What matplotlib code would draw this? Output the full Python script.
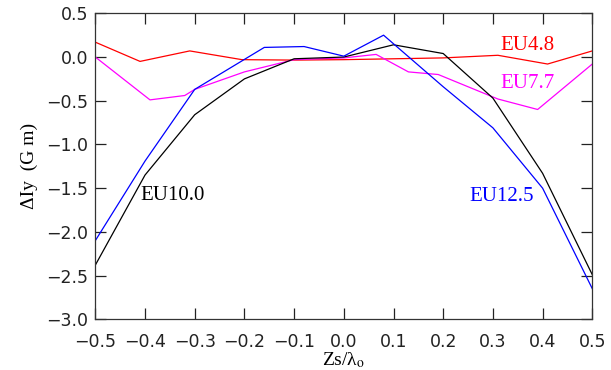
import matplotlib
matplotlib.use("Agg")
import matplotlib.pyplot as plt

# EU4.8 (red)
x_eu48 = [-0.5, -0.41, -0.31, -0.205, -0.1, 0.0, 0.1, 0.2, 0.31, 0.41, 0.5]
y_eu48 = [0.17, -0.05, 0.07, -0.03, -0.035, -0.03, -0.02, -0.01, 0.02, -0.08, 0.07]

# EU7.7 (magenta)
x_eu77 = [-0.5, -0.39, -0.32, -0.3, -0.2, -0.1, 0.0, 0.065, 0.13, 0.19, 0.31, 0.39, 0.5]
y_eu77 = [0.0, -0.49, -0.44, -0.37, -0.17, -0.03, -0.01, 0.03, -0.17, -0.2, -0.48, -0.6, -0.08]

# EU10.0 (black)
x_eu100 = [-0.5, -0.4, -0.3, -0.2, -0.1, 0.0, 0.1, 0.2, 0.3, 0.4, 0.5]
y_eu100 = [-2.38, -1.35, -0.66, -0.25, -0.02, 0.0, 0.14, 0.04, -0.47, -1.33, -2.49]

# EU12.5 (blue)
x_eu125 = [-0.5, -0.4, -0.3, -0.16, -0.08, 0.0, 0.08, 0.2, 0.3, 0.4, 0.5]
y_eu125 = [-2.10, -1.19, -0.37, 0.11, 0.12, 0.01, 0.25, -0.34, -0.81, -1.50, -2.65]

xticks = [-0.5, -0.4, -0.3, -0.2, -0.1, 0.0, 0.1, 0.2, 0.3, 0.4, 0.5]
yticks = [-3.0, -2.5, -2.0, -1.5, -1.0, -0.5, 0.0, 0.5]

plt.rcParams["mathtext.fontset"] = "stix"
serif = "Liberation Serif"

fig = plt.figure(figsize=(6.11, 3.70), dpi=100)
ax = fig.add_axes([0.156, 0.137, 0.8134, 0.827])

ax.plot(x_eu48, y_eu48, color="#ff0000", lw=0.9)
ax.plot(x_eu77, y_eu77, color="#ff00ff", lw=0.9)
ax.plot(x_eu100, y_eu100, color="black", lw=0.9)
ax.plot(x_eu125, y_eu125, color="#0000ff", lw=0.9)

ax.text(0.316, 0.137, "EU4.8", color="#ff0000", fontsize=15, family=serif, va="center")
ax.text(0.316, -0.30, "EU7.7", color="#ff00ff", fontsize=15, family=serif, va="center")
ax.text(-0.41, -1.58, "EU10.0", color="black", fontsize=15, family=serif, va="center")
ax.text(0.252, -1.60, "EU12.5", color="#0000ff", fontsize=15, family=serif, va="center")

ax.set_xlim(-0.5, 0.5)
ax.set_ylim(-3.0, 0.5)
ax.set_xticks(xticks)
ax.set_yticks(yticks)
ax.set_xticklabels(["\u2212%.1f" % abs(v) if v < 0 else "%.1f" % v for v in xticks])
ax.set_yticklabels(["\u2212%.1f" % abs(v) if v < 0 else "%.1f" % v for v in yticks])
ax.tick_params(direction="in", length=8, width=0.9, top=True, right=True,
               labelsize=12.5, colors="#222222")
ax.tick_params(axis="x", pad=10)
ax.tick_params(axis="y", pad=5)
for s in ax.spines.values():
    s.set_linewidth(0.9)
    s.set_color("#333333")

ax.set_xlabel("Zs/\u03bb$_\\mathrm{o}$", fontsize=14, family=serif, labelpad=-1)
ax.set_ylabel("\u0394Iy  (G m)", fontsize=14, family=serif, labelpad=6)

fig.savefig("out.png", dpi=100)
